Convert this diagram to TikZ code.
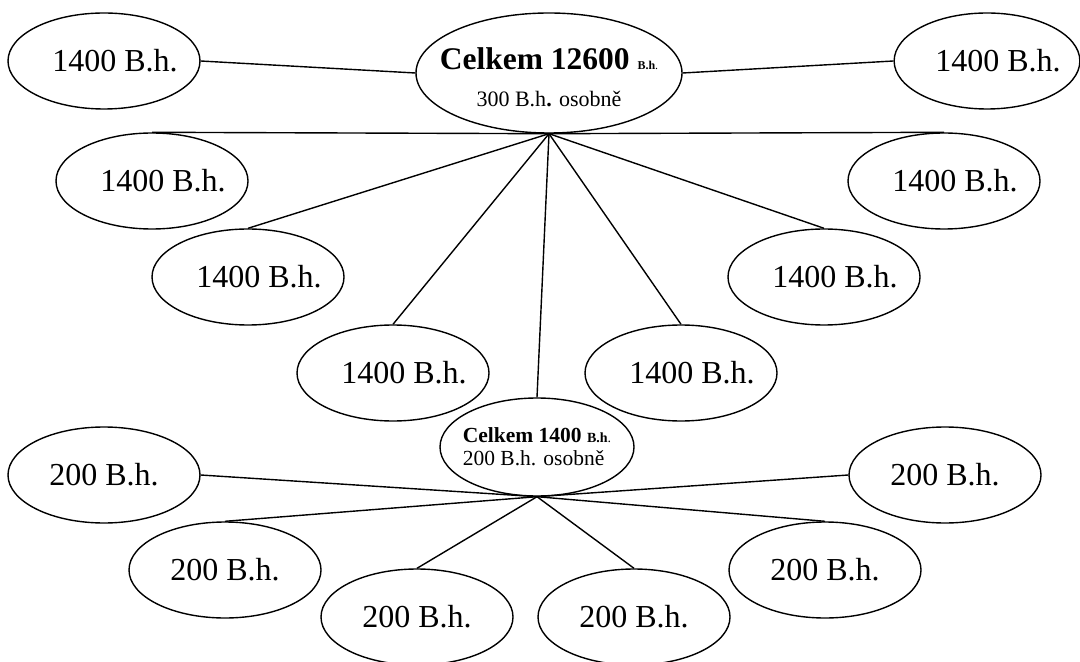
\documentclass[tikz,border=0pt]{standalone}
\usepackage{fontspec}
\setmainfont{Liberation Serif}
\usetikzlibrary{shapes.geometric}

\begin{document}
\begin{tikzpicture}[
    x=0.5pt, y=-0.5pt,
    oval/.style={draw, ellipse, line width=0.7pt, inner sep=0pt, minimum width=96pt, minimum height=48pt, font=\fontsize{16}{18}\selectfont},
    group/.style={oval, inner xsep=-4pt, execute at begin node={\hspace*{11pt}}},
    link/.style={line width=0.7pt}
  ]
  \useasboundingbox (0,0) rectangle (1080,662);
  % upper level
  \node[oval, minimum width=133pt, minimum height=60pt, inner xsep=-10pt, align=center, text height=34pt, text depth=0pt, font=\fontsize{11}{18.5}\selectfont] (total) at (549,73)
    {{\fontsize{15.75}{18.5}\selectfont\bfseries Celkem 12600 {\fontsize{6}{7}\selectfont B.h}}{\fontsize{6}{7}\selectfont .}\\300 B.h\textbf{.} osobně};
  \node[group] (g1l) at (104,61)  {1400 B.h.};
  \node[group, minimum width=92pt] (g1r) at (987,61) {1400 B.h.};
  \node[group] (g2l) at (152,181) {1400 B.h.};
  \node[group] (g2r) at (944,181) {1400 B.h.};
  \node[group] (g3l) at (248,277) {1400 B.h.};
  \node[group] (g3r) at (824,277) {1400 B.h.};
  \node[group] (g4l) at (393,373) {1400 B.h.};
  \node[group] (g4r) at (681,373) {1400 B.h.};
  % lower level
  \node[oval, minimum width=97pt, minimum height=49pt, inner xsep=-5pt, align=left, font=\fontsize{10.75}{11.5}\selectfont] (sub) at (537,447)
    {\textbf{Celkem 1400 {\fontsize{7}{8}\selectfont B.h}}{\fontsize{7}{8}\selectfont .}\\200 B.h. osobně};
  \node[oval] (m1l) at (104,475) {200 B.h.};
  \node[oval] (m1r) at (945,475) {200 B.h.};
  \node[oval] (m2l) at (225,570) {200 B.h.};
  \node[oval] (m2r) at (825,570) {200 B.h.};
  \node[oval] (m3l) at (417,617) {200 B.h.};
  \node[oval] (m3r) at (634,617) {200 B.h.};

  \draw[link] (g1l.east) -- (total.west);
  \draw[link] (total.east) -- (g1r.west);
  \draw[link] (total.south) -- (g2l.north);
  \draw[link] (total.south) -- (g2r.north);
  \draw[link] (total.south) -- (g3l.north);
  \draw[link] (total.south) -- (g3r.north);
  \draw[link] (total.south) -- (g4l.north);
  \draw[link] (total.south) -- (g4r.north);
  \draw[link] (total.south) -- (sub.north);

  \draw[link] (sub.south) -- (m1l.east);
  \draw[link] (sub.south) -- (m1r.west);
  \draw[link] (sub.south) -- (m2l.north);
  \draw[link] (sub.south) -- (m2r.north);
  \draw[link] (sub.south) -- (m3l.north);
  \draw[link] (sub.south) -- (m3r.north);
\end{tikzpicture}
\end{document}
